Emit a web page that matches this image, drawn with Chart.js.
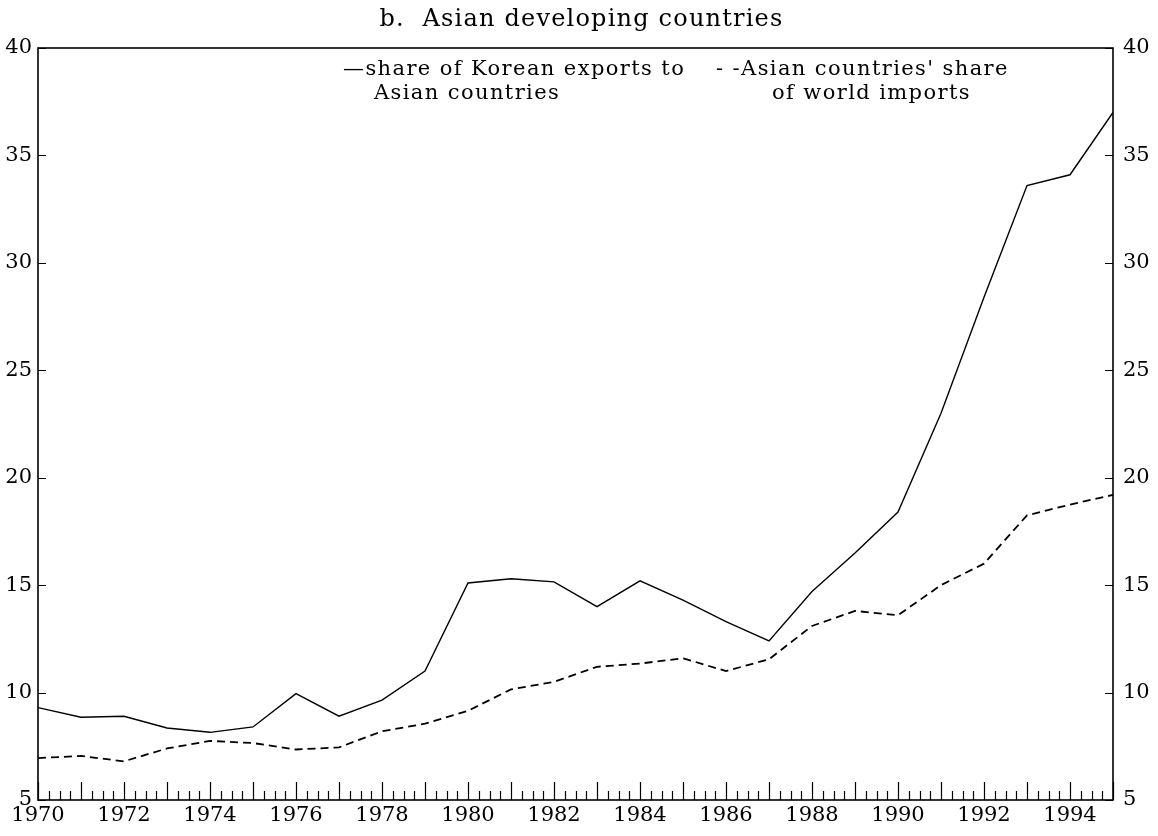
<!DOCTYPE html>
<html>
<head>
<meta charset="utf-8">
<script src="https://cdn.jsdelivr.net/npm/chart.js@4/dist/chart.umd.min.js"></script>
<style>
  html, body { margin: 0; padding: 0; background: #ffffff; }
  #wrap { width: 1158px; height: 836px; }
</style>
</head>
<body>
<div id="wrap"><canvas id="c" width="1158" height="836"></canvas></div>
<script>
// ---- data ----
const years = [1970,1971,1972,1973,1974,1975,1976,1977,1978,1979,1980,1981,1982,1983,1984,1985,1986,1987,1988,1989,1990,1991,1992,1993,1994,1995];
const koreanExportShare = [9.3,8.85,8.9,8.35,8.15,8.4,9.95,8.9,9.65,11.0,15.1,15.3,15.15,14.0,15.2,14.3,13.3,12.4,14.7,16.5,18.4,23.0,28.4,33.6,34.1,37.0];
const asiaWorldImportShare = [6.95,7.05,6.8,7.4,7.75,7.65,7.35,7.45,8.2,8.55,9.15,10.15,10.5,11.2,11.35,11.6,11.0,11.55,13.1,13.8,13.6,15.0,16.0,18.25,18.75,19.2];
const yTickValues = [5,10,15,20,25,30,35,40];
const xLabelYears = [1970,1972,1974,1976,1978,1980,1982,1984,1986,1988,1990,1992,1994];
const titleText = "b.  Asian developing countries";
const legendSolid = ["\u2014share of Korean exports to", "Asian countries"];
const legendDashed = ["- -Asian countries' share", "of world imports"];

const SERIF = "'DejaVu Serif', 'Liberation Serif', serif";

const toXY = arr => arr.map((v, i) => ({ x: years[i], y: v }));

const frame = {
  id: 'frame',
  afterDatasetsDraw(chart) {
    const { ctx, chartArea: a, scales } = chart;
    const x = scales.x, y = scales.y;
    ctx.save();
    ctx.strokeStyle = '#000';
    ctx.lineWidth = 1.6;
    ctx.strokeRect(a.left, a.top, a.right - a.left, a.bottom - a.top);
    ctx.lineWidth = 1.2;
    ctx.beginPath();
    // x ticks: yearly (tall) and quarterly (short), pointing inward
    for (let q = years[0] * 4; q <= years[years.length - 1] * 4; q++) {
      const v = q / 4;
      const px = Math.round(x.getPixelForValue(v)) + 0.5;
      const len = (q % 4 === 0) ? 18 : 9;
      ctx.moveTo(px, a.bottom);
      ctx.lineTo(px, a.bottom - len);
    }
    // y ticks both sides, pointing inward
    yTickValues.forEach(v => {
      const py = Math.round(y.getPixelForValue(v)) + 0.5;
      ctx.moveTo(a.left, py); ctx.lineTo(a.left + 8, py);
      ctx.moveTo(a.right, py); ctx.lineTo(a.right - 8, py);
    });
    ctx.stroke();

    ctx.fillStyle = '#000';
    ctx.textBaseline = 'middle';
    // title (text, with letter spacing like the typeset original)
    ctx.font = "24px " + SERIF;
    ctx.letterSpacing = '1.2px';
    ctx.textAlign = 'center';
    ctx.fillText(titleText, (a.left + a.right) / 2 + 6, 20);

    // legend (text)
    ctx.font = "21px " + SERIF;
    ctx.letterSpacing = '1.4px';
    ctx.textAlign = 'left';
    ctx.fillText(legendSolid[0], 343, 70);
    ctx.fillText(legendSolid[1], 374, 94);
    ctx.fillText(legendDashed[0], 716, 70);
    ctx.fillText(legendDashed[1], 772, 94);
    ctx.letterSpacing = '0px';
    ctx.restore();
  }
};

new Chart(document.getElementById('c'), {
  type: 'line',
  data: {
    datasets: [
      {
        label: 'share of Korean exports to Asian countries',
        data: toXY(koreanExportShare),
        borderColor: '#000',
        borderWidth: 1.4,
        pointRadius: 0,
        tension: 0,
        fill: false,
        yAxisID: 'y'
      },
      {
        label: "Asian countries' share of world imports",
        data: toXY(asiaWorldImportShare),
        borderColor: '#000',
        borderWidth: 1.8,
        borderDash: [8, 5],
        pointRadius: 0,
        tension: 0,
        fill: false,
        yAxisID: 'y'
      }
    ]
  },
  options: {
    responsive: false,
    animation: false,
    layout: { padding: { left: 0, right: 0, top: 48, bottom: 0 } },
    plugins: {
      legend: { display: false },
      tooltip: { enabled: false },
      title: { display: false }
    },
    scales: {
      x: {
        type: 'linear',
        min: years[0],
        max: years[years.length - 1],
        grid: { display: false, drawTicks: false },
        border: { display: false },
        afterFit(s) { s.height = 36; },
        afterBuildTicks(s) { s.ticks = xLabelYears.map(v => ({ value: v })); },
        ticks: {
          color: '#000',
          padding: 3,
          maxRotation: 0,
          autoSkip: false,
          font: { family: SERIF, size: 21 },
          callback: v => String(v)
        }
      },
      y: {
        position: 'left',
        min: 5, max: 40,
        grid: { display: false, drawTicks: false },
        border: { display: false },
        afterFit(s) { s.width = 38; },
        afterBuildTicks(s) { s.ticks = yTickValues.map(v => ({ value: v })); },
        ticks: { color: '#000', padding: 6, font: { family: SERIF, size: 21 } }
      },
      y2: {
        position: 'right',
        min: 5, max: 40,
        grid: { display: false, drawTicks: false },
        border: { display: false },
        afterFit(s) { s.width = 45; },
        afterBuildTicks(s) { s.ticks = yTickValues.map(v => ({ value: v })); },
        ticks: { color: '#000', padding: 10, font: { family: SERIF, size: 21 } }
      }
    }
  },
  plugins: [frame]
});
</script>
</body>
</html>
